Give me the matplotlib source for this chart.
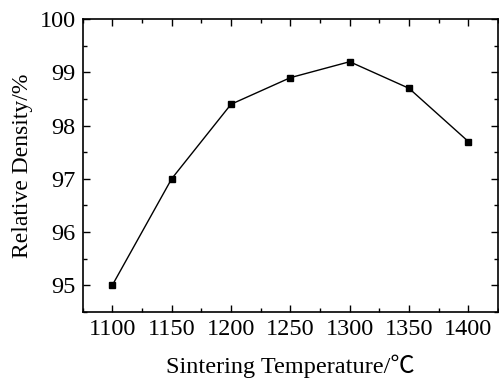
import numpy as np
import matplotlib
matplotlib.use("Agg")
import matplotlib.pyplot as plt
from matplotlib.ticker import MultipleLocator

plt.rcParams['font.family'] = ['Liberation Serif', 'Noto Sans CJK SC', 'DejaVu Serif']

# sintering temperature vs relative density
temp = [1100, 1150, 1200, 1250, 1300, 1350, 1400]
density = [95.0, 97.0, 98.4, 98.9, 99.2, 98.7, 97.7]

fig = plt.figure(figsize=(4.99, 3.83), dpi=100)
ax = fig.add_axes([0.1657, 0.186, 0.8323, 0.764])

ax.plot(temp, density, color='black', lw=1.0, marker='s', ms=5,
        mfc='black', mec='black')

ax.set_xlim(1075, 1425)
ax.set_ylim(94.5, 100)
ax.xaxis.set_major_locator(MultipleLocator(50))
ax.xaxis.set_minor_locator(MultipleLocator(25))
ax.yaxis.set_major_locator(MultipleLocator(1))
ax.yaxis.set_minor_locator(MultipleLocator(0.5))
ax.tick_params(which='both', direction='in', top=True, right=True, width=1.0)
ax.tick_params(which='major', length=5, labelsize=17.5, pad=5)
ax.tick_params(which='minor', length=3)
for s in ax.spines.values():
    s.set_linewidth(1.2)

ax.set_xlabel("Sintering Temperature/℃", fontsize=17.5, labelpad=11)
ax.set_ylabel("Relative Density/%", fontsize=17, labelpad=5)

fig.savefig("out.png", dpi=100)
